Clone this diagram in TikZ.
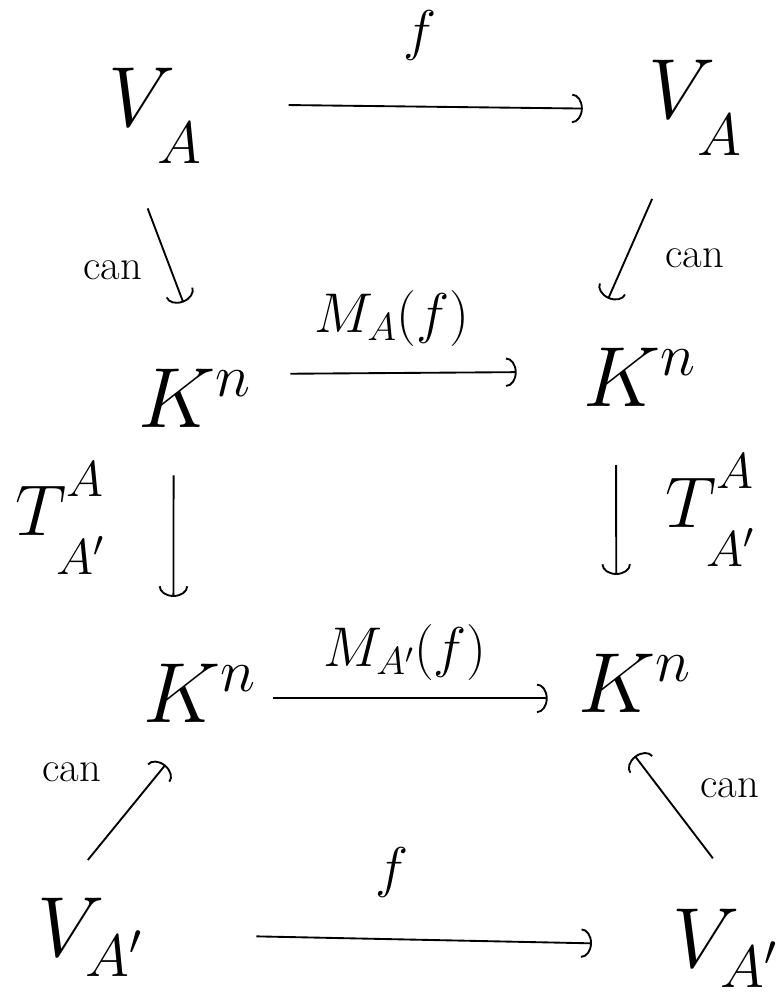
\RequirePackage{fix-cm}
\documentclass[tikz,border=0pt]{standalone}
\usetikzlibrary{arrows.meta}
\newcommand{\myshift}[2]{\smash{\raisebox{#1}{$\scriptstyle #2$}}}
\begin{document}
\begin{tikzpicture}[x=0.75pt,y=-0.75pt,
  obj/.style={inner sep=0pt, font=\fontsize{64}{70}\selectfont},
  lab/.style={inner sep=0pt, font=\fontsize{42}{46}\selectfont},
  tlab/.style={inner sep=0pt, font=\fontsize{54}{60}\selectfont},
  canlab/.style={inner sep=0pt, font=\fontsize{32}{36}\selectfont},
  arr/.style={line width=1.4pt, -{Arc Barb[length=8pt,width=22pt,line width=1.4pt]}}]
\useasboundingbox (0,0) rectangle (779,1000);
% objects
\node[obj] (VA)  at (155,104) {$V_{\myshift{-18pt}{A}}$};
\node[obj] (VA2) at (695,96)  {$V_{\myshift{-18pt}{A}}$};
\node[obj] (K1)  at (195,398) {$K^n$};
\node[obj] (K2)  at (640,377) {$K^n$};
\node[obj] (K3)  at (200,693) {$K^n$};
\node[obj] (K4)  at (635,683) {$K^n$};
\node[obj] (VB)  at (90,934)  {$V_{\myshift{-5pt}{A'}}$};
\node[obj] (VB2) at (725,945) {$V_{\myshift{-5pt}{A'}}$};
% labels
\node[lab] (f1) at (420,35) {$f$};
\node[lab] (m1) at (392,318) {$M_A(f)$};
\node[lab] (m2) at (405,652) {$M_{A'}(f)$};
\node[lab] (f2) at (392,872) {$f$};
\node[canlab] (c1) at (113,270) {can};
\node[canlab] (c2) at (695,258) {can};
\node[canlab] (c3) at (72,772) {can};
\node[canlab] (c4) at (730,788) {can};
\node[tlab] (t1) at (60,520) {$T^{\myshift{10pt}{A}}_{\myshift{-16pt}{A'}}$};
\node[tlab] (t2) at (710,512) {$T^{\myshift{10pt}{A}}_{\myshift{-16pt}{A'}}$};
% horizontal arrows
\draw[arr, shorten <=65pt, shorten >=49pt] (VA.east) -- ([yshift=-10pt]VA2.west);
\draw[arr, shorten <=29pt, shorten >=50pt] ([yshift=18pt]K1.east) -- ([yshift=4pt]K2.west);
\draw[arr, shorten <=12pt, shorten >=23pt] ([yshift=-4pt]K3.west -| K3.east) -- ([yshift=-11.5pt]K4.west);
\draw[arr, shorten <=85pt, shorten >=60pt] (VB.east) -- (VB2.west);
% vertical arrows
\draw[arr, shorten <=36pt, shorten >=50pt] ([xshift=-16pt]K1.south) -- ([xshift=-20pt]K3.north);
\draw[arr, shorten <=44pt, shorten >=59pt] ([xshift=-18pt]K2.south) -- ([xshift=-14pt]K4.north);
% diagonal arrows
\draw[arr, shorten <=55pt, shorten >=53pt] ([xshift=-25pt]VA.south) -- ([xshift=10pt]K1.north);
\draw[arr, shorten <=55pt, shorten >=40pt] ([xshift=-10pt]VA2.south) -- ([xshift=-40pt]K2.north);
\draw[arr, shorten <=37pt, shorten >=41pt] ([xshift=-25pt]VB.north) -- ([xshift=0pt]K3.south);
\draw[arr, shorten <=48pt, shorten >=41pt] ([xshift=20pt]VB2.north) -- ([xshift=-25pt]K4.south);
\end{tikzpicture}
\end{document}
